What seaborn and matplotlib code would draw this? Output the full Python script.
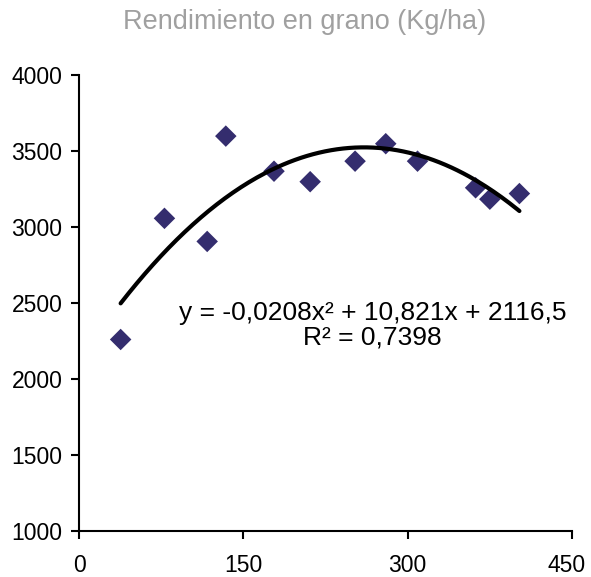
import numpy as np
import pandas as pd
import matplotlib
matplotlib.use("Agg")
import matplotlib.pyplot as plt
import matplotlib.transforms as mtransforms
import seaborn as sns

# Data
dosis = [38, 78, 117, 134, 178, 211, 252, 280, 309, 362, 375, 402]
rendimiento = [2260, 3057, 2905, 3598, 3367, 3298, 3433, 3548, 3433, 3258, 3183, 3220]
coef = [-0.0208, 10.821, 2116.5]  # trendline from the chart's equation
xticks = [0, 150, 300, 450]
yticks = [1000, 1500, 2000, 2500, 3000, 3500, 4000]
title = "Rendimiento en grano (Kg/ha)"
eq_text = "y = -0,0208x² + 10,821x + 2116,5\nR² = 0,7398"

sns.set_theme(style="white")
plt.rcParams['font.family'] = ['Liberation Sans', 'DejaVu Sans']

fig = plt.figure(figsize=(5.91, 5.77), dpi=100)
ax = fig.add_axes([79/591, 1-531/577, 493/591, 456/577])

df = pd.DataFrame({"x": dosis, "y": rendimiento})
xs = np.linspace(min(dosis), max(dosis), 200)
trend = pd.DataFrame({"x": xs, "y": np.polyval(coef, xs)})

sns.scatterplot(data=df, x="x", y="y", marker="D", s=120, color="#342d6e",
                edgecolor="none", ax=ax, zorder=2)
sns.lineplot(data=trend, x="x", y="y", color="black", linewidth=3.0, ax=ax, zorder=3)

ax.set_xlim(0, 450)
ax.set_ylim(1000, 4000)
ax.set_xticks(xticks)
ax.set_yticks(yticks)
ax.set_xlabel("")
ax.set_ylabel("")
for s in ["top", "right"]:
    ax.spines[s].set_visible(False)
for s in ["left", "bottom"]:
    ax.spines[s].set_color("black")
    ax.spines[s].set_linewidth(1.5)
ax.tick_params(axis="both", which="major", direction="out", length=6, width=1.5,
               color="black", labelsize=16.5, labelcolor="black",
               bottom=True, left=True)
ax.tick_params(axis="y", pad=6)
ax.tick_params(axis="x", pad=10.5)

# the last x label sits slightly left of its tick, as in the reference
fig.canvas.draw()
last = ax.get_xticklabels()[-1]
last.set_transform(last.get_transform() +
                   mtransforms.ScaledTranslation(-5/100, 0, fig.dpi_scale_trans))

ax.text(268, 2355, eq_text, ha="center", va="center", fontsize=19,
        color="black", linespacing=1.05)

fig.text(305/591, 1-22/577, title, ha="center", va="center", fontsize=19.5,
         color="#a0a0a0")

fig.savefig("out.png", dpi=100)
